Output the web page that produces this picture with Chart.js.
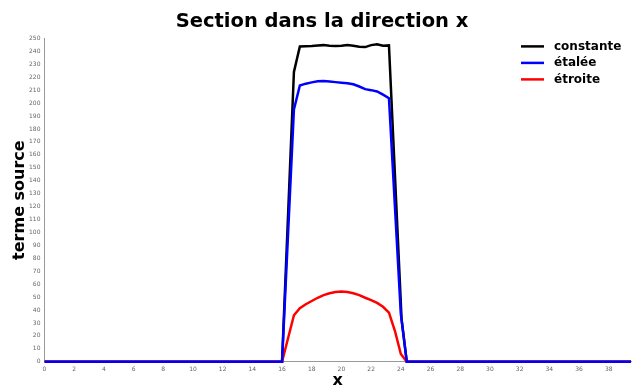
<!DOCTYPE html>
<html>
<head>
<meta charset="utf-8">
<script src="https://cdn.jsdelivr.net/npm/chart.js@4.4.0/dist/chart.umd.min.js"></script>
<style>
  html, body { margin: 0; padding: 0; background: #fff; }
  #wrap { width: 632px; height: 385px; }
</style>
</head>
<body>
<div id="wrap"><canvas id="sectionChart"></canvas></div>
<script>
// values
const seriesNames = ['constante', 'étalée', 'étroite'];
const seriesColors = ['#000000', '#0000ff', '#ff0000'];

const xConstante = [0, 16.0, 16.8, 17.2, 17.6, 18.0, 18.4, 18.8, 19.2, 19.6, 20.0, 20.4, 20.8, 21.2, 21.6, 22.0, 22.4, 22.8, 23.2, 24.05, 24.4, 39.6];
const yConstante = [0, 0, 224, 243.8, 244, 244.2, 244.6, 244.8, 244.3, 244.2, 244.4, 244.8, 244.3, 243.6, 243.3, 244.8, 245.4, 244.4, 244.6, 33, 0, 0];

const xEtalee = [0, 16.0, 16.8, 17.2, 17.6, 18.0, 18.4, 18.8, 19.2, 19.6, 20.0, 20.4, 20.8, 21.2, 21.6, 22.0, 22.4, 22.8, 23.2, 24.0, 24.4, 39.6];
const yEtalee = [0, 0, 195, 213.6, 215, 216, 216.8, 217, 216.7, 216.2, 215.8, 215.4, 214.5, 212.8, 210.8, 210, 209, 206.5, 203.8, 37, 0, 0];

const xEtroite = [0, 16.0, 16.8, 17.2, 17.6, 18.0, 18.4, 18.8, 19.2, 19.6, 20.0, 20.4, 20.8, 21.2, 21.6, 22.0, 22.4, 22.8, 23.2, 23.6, 24.0, 24.4, 39.6];
const yEtroite = [0, 0, 36, 41.5, 44.5, 47, 49.5, 51.5, 53, 54, 54.3, 54, 53, 51.5, 49.5, 47.7, 45.5, 42.5, 38, 24, 6, 0, 0];

const xMin = 0, xMax = 39.5, xStep = 2;
const yMin = 0, yMax = 250, yStep = 10;

const toPoints = (xs, ys) => xs.map((x, i) => ({ x: x, y: ys[i] }));

// legend drawn inside the plot, top right
const innerLegend = {
  id: 'innerLegend',
  afterDraw(chart) {
    const ctx = chart.ctx;
    const area = chart.chartArea;
    ctx.save();
    ctx.font = 'bold 12px "DejaVu Sans"';
    ctx.textBaseline = 'middle';
    chart.data.datasets.forEach((ds, i) => {
      const y = area.top + 8 + i * 16.5;
      const x0 = area.right - 110;
      ctx.strokeStyle = ds.borderColor;
      ctx.lineWidth = 2.5;
      ctx.beginPath();
      ctx.moveTo(x0, y);
      ctx.lineTo(x0 + 23, y);
      ctx.stroke();
      ctx.fillStyle = '#000';
      ctx.fillText(ds.label, x0 + 33, y);
    });
    ctx.restore();
  }
};

const datasets = [
  { label: seriesNames[0], data: toPoints(xConstante, yConstante), borderColor: seriesColors[0], order: 2 },
  { label: seriesNames[1], data: toPoints(xEtalee, yEtalee), borderColor: seriesColors[1], order: 0 },
  { label: seriesNames[2], data: toPoints(xEtroite, yEtroite), borderColor: seriesColors[2], order: 1 }
].map(d => Object.assign(d, {
  borderWidth: 2.5,
  pointRadius: 0,
  fill: false,
  tension: 0,
  clip: { left: 0, right: 0, top: 0, bottom: 3 },
  backgroundColor: d.borderColor
}));

const ctx = document.getElementById('sectionChart').getContext('2d');
new Chart(ctx, {
  type: 'line',
  data: { datasets: datasets },
  options: {
    responsive: true,
    maintainAspectRatio: false,
    animation: false,
    layout: { padding: { top: 0, right: 0, bottom: 0, left: 12 } },
    plugins: {
      legend: { display: false },
      tooltip: { enabled: false },
      title: {
        display: true,
        text: 'Section dans la direction x',
        color: '#000',
        font: { family: 'DejaVu Sans', size: 19.5, weight: 'bold' },
        padding: { top: 10, bottom: 5 }
      }
    },
    scales: {
      x: {
        type: 'linear',
        min: xMin,
        max: xMax,
        grid: { display: false, drawTicks: true, tickLength: 3, tickColor: '#999' },
        border: { display: true, color: '#999', width: 1 },
        ticks: {
          stepSize: xStep,
          color: '#666',
          font: { family: 'DejaVu Sans', size: 6 },
          padding: 1,
          maxRotation: 0,
          autoSkip: false,
          callback: v => (v % xStep === 0 ? v : '')
        },
        title: {
          display: true,
          text: 'x',
          color: '#000',
          font: { family: 'DejaVu Sans', size: 16, weight: 'bold', lineHeight: 1 },
          padding: { top: -1, bottom: -4 }
        }
      },
      y: {
        min: yMin,
        max: yMax,
        grid: { display: false, drawTicks: true, tickLength: 3, tickColor: '#999' },
        border: { display: true, color: '#999', width: 1 },
        ticks: {
          stepSize: yStep,
          color: '#666',
          font: { family: 'DejaVu Sans', size: 6 },
          padding: 1,
          autoSkip: false
        },
        title: {
          display: true,
          text: 'terme source',
          color: '#000',
          font: { family: 'DejaVu Sans', size: 16, weight: 'bold', lineHeight: 1 },
          padding: { top: 0, bottom: 0 }
        }
      }
    }
  },
  plugins: [innerLegend]
});
</script>
</body>
</html>
